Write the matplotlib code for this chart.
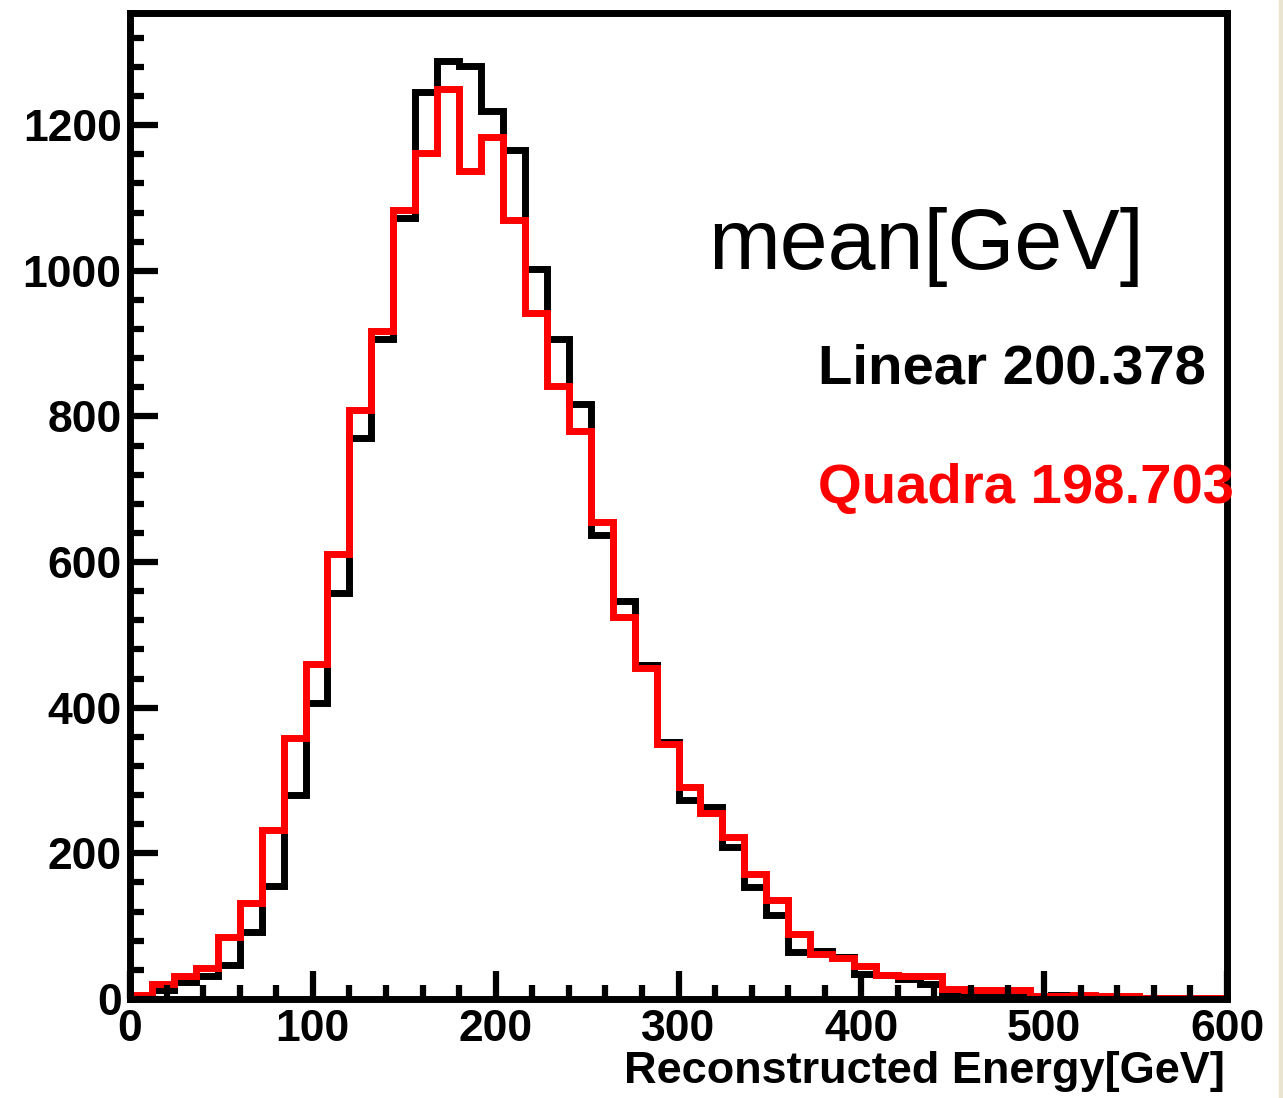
import numpy as np
import matplotlib
matplotlib.use("Agg")
import matplotlib.pyplot as plt
from matplotlib.patches import Rectangle

plt.rcParams['font.family'] = ['Liberation Sans', 'DejaVu Sans']
plt.rcParams['font.weight'] = 'bold'

# 50 bins of 12 GeV from 0 to 600
bin_edges = np.arange(0, 601, 12)

# reconstructed energy, linear calibration
linear_counts = [2, 12, 24, 32, 47, 92, 155, 280, 407, 557,
                 770, 907, 1072, 1245, 1288, 1281, 1219, 1166, 1003, 907,
                 817, 637, 547, 458, 353, 273, 263, 209, 154, 115,
                 65, 66, 57, 35, 33, 28, 20, 7, 5, 6,
                 4, 3, 5, 2, 3, 2, 1, 1, 0, 1]

# reconstructed energy, quadratic calibration
quadra_counts = [6, 21, 31, 43, 85, 132, 232, 359, 460, 611,
                 809, 918, 1084, 1162, 1249, 1137, 1184, 1070, 942, 842,
                 780, 655, 525, 454, 350, 291, 256, 223, 172, 136,
                 89, 62, 56, 45, 33, 31, 31, 14, 13, 13,
                 12, 4, 4, 5, 4, 4, 1, 1, 1, 1]

linear_mean = 200.378
quadra_mean = 198.703

W, H = 1283, 1098
fig = plt.figure(figsize=(W / 100, H / 100), dpi=100)
ax = fig.add_axes([130 / W, 1 - 999 / H, (1227 - 130) / W, (999 - 13) / H])

ax.stairs(linear_counts, bin_edges, baseline=None, color='black', lw=5,
          joinstyle='miter')
ax.stairs(quadra_counts, bin_edges, baseline=None, color='red', lw=5,
          joinstyle='miter')

ax.set_xlim(0, 600)
ax.set_ylim(0, 1354)

for s in ax.spines.values():
    s.set_linewidth(5)

ax.set_xticks(np.arange(0, 601, 100))
ax.set_xticks(np.arange(0, 601, 20), minor=True)
ax.set_yticks(np.arange(0, 1201, 200))
ax.set_yticks(np.arange(0, 1321, 40), minor=True)
ax.tick_params(which='both', direction='in', width=4.5, top=False, right=False)
ax.tick_params(which='major', length=20, labelsize=32)
ax.tick_params(which='minor', length=10)
ax.tick_params(axis='x', pad=7)
ax.tick_params(axis='y', pad=6)

fig.text(1225 / W, 1 - 1083 / H, 'Reconstructed Energy[GeV]', ha='right',
         va='baseline', fontsize=32.5, fontweight='bold')

fig.text(708 / W, 1 - 269 / H, 'mean[GeV]', ha='left', va='baseline',
         fontsize=62, fontweight='normal')
fig.text(818 / W, 1 - 383 / H, 'Linear %.3f' % linear_mean, ha='left',
         va='baseline', fontsize=40.5, fontweight='bold', color='black')
fig.text(818 / W, 1 - 503 / H, 'Quadra %.3f' % quadra_mean, ha='left',
         va='baseline', fontsize=40.5, fontweight='bold', color='red', zorder=5)

# thin beige edge on the right side
fig.patches.append(Rectangle((1279 / W, 0), 4 / W, 1, transform=fig.transFigure,
                             color='#e8e4cf', zorder=0))

fig.savefig('out.png', dpi=100)
